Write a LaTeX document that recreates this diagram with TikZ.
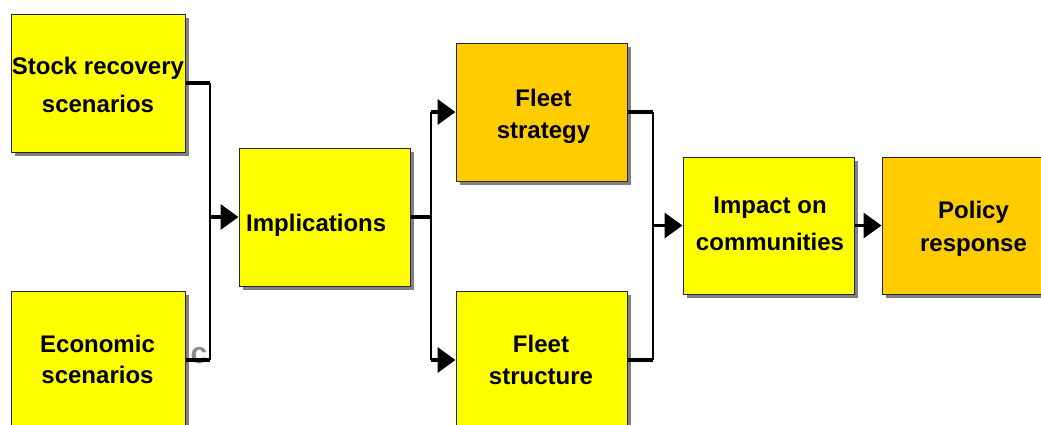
\documentclass[tikz,border=0pt]{standalone}
\usepackage{fontspec}
\setmainfont{Liberation Sans}
\usetikzlibrary{arrows.meta}
\definecolor{yel}{HTML}{FFFF00}
\definecolor{org}{HTML}{FFCC00}
\definecolor{shad}{HTML}{808080}
\begin{document}
\begin{tikzpicture}[x=1pt,y=-1pt,
  box/.style={draw=black!85, line width=1pt, inner sep=0pt,
    minimum width=171pt, minimum height=138pt,
    preaction={fill=shad, transform canvas={shift={(3.5pt,-3.5pt)}}}},
  lbl/.style={inner sep=0pt, align=center, anchor=north},
  stub/.style={line width=3.5pt},
  bus/.style={line width=2.5pt},
  arr/.style={line width=3.5pt, -{Triangle[length=18pt,width=25pt]}}]
\useasboundingbox (0,0) rectangle (1041,424);
% stray gray letter
\node[text=black!45, inner sep=0pt, font=\fontsize{30}{30}\selectfont\bfseries] (stray) at (199,356) {c};
% boxes
\node[box, fill=yel, minimum width=174pt] (stock) at (98,83) {};
\node[box, fill=yel, minimum width=174pt] (econ) at (98,360) {};
\node[box, fill=yel] (impl) at (324.5,217) {};
\node[box, fill=org] (strat) at (541.5,112) {};
\node[box, fill=yel] (struct) at (541.5,360) {};
\node[box, fill=yel, minimum height=137pt] (impact) at (768.5,225.5) {};
\node[box, fill=org, minimum width=182pt, minimum height=137pt] (policy) at (973,225.5) {};
% labels
\node[lbl, font=\fontsize{24}{38}\selectfont\bfseries] (stockT) at (98,57) {Stock recovery\\scenarios};
\node[lbl, font=\fontsize{24}{31}\selectfont\bfseries] (econT) at (97.5,335) {Economic\\scenarios};
\node[lbl, anchor=north west, font=\fontsize{24}{31}\selectfont\bfseries] (implT) at (246,214) {Implications};
\node[lbl, font=\fontsize{24}{32}\selectfont\bfseries] (stratT) at (543.5,89) {Fleet\\strategy};
\node[lbl, font=\fontsize{24}{32}\selectfont\bfseries] (structT) at (541,335) {Fleet\\structure};
\node[lbl, font=\fontsize{24}{37}\selectfont\bfseries] (impactT) at (770,197) {Impact on\\communities};
\node[lbl, font=\fontsize{24}{33}\selectfont\bfseries] (policyT) at (973.5,201) {Policy\\response};
% bus coordinates
\coordinate (b1) at (210,0);
\coordinate (b2) at (431,0);
\coordinate (b3) at (653,0);
% first junction
\draw[stub] (stock.east) -- (stock.east -| b1);
\draw[stub] (econ.east) -- (econ.east -| b1);
\draw[bus] (stock.east -| b1) -- (econ.east -| b1);
\draw[arr] (impl.west -| b1) -- (impl.west);
% second junction
\draw[stub] (impl.east) -- (impl.east -| b2);
\draw[bus] (strat.west -| b2) -- (struct.west -| b2);
\draw[arr] (strat.west -| b2) -- (strat.west);
\draw[arr] (struct.west -| b2) -- (struct.west);
% third junction
\draw[stub] (strat.east) -- (strat.east -| b3);
\draw[stub] (struct.east) -- (struct.east -| b3);
\draw[bus] (strat.east -| b3) -- (struct.east -| b3);
\draw[arr] (impact.west -| b3) -- (impact.west);
% final
\draw[arr] (impact.east) -- (policy.west);
\end{tikzpicture}
\end{document}
